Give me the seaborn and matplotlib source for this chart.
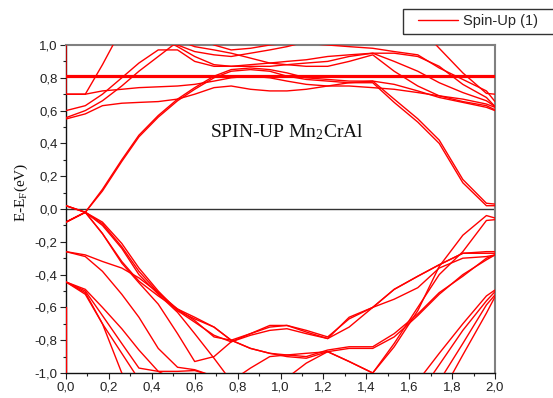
import numpy as np
import pandas as pd
import matplotlib
matplotlib.use("Agg")
import matplotlib.pyplot as plt
from matplotlib.ticker import MultipleLocator, FuncFormatter
from matplotlib.patches import Rectangle
from matplotlib.lines import Line2D
import seaborn as sns

N = np.nan

# k-path sampling (first point repeated so a band can jump at Gamma)
k_path = [0.00, 0.00, 0.09, 0.17, 0.26, 0.34, 0.43, 0.52, 0.60, 0.69, 0.77, 0.86,
          0.95, 1.03, 1.12, 1.22, 1.32, 1.43, 1.53, 1.64, 1.74, 1.85, 1.96, 2.00]

# flat band just above the Fermi level
flat_k = [0.0, 2.0]
flat_e = [0.81, 0.81]

# conduction bands (eV)
up_steep_l = [1.20, 0.70, 0.70, 0.88, 1.10, N, N, N, N, N, N, N, N, N, N, N, N, N, N, N, N, N, N, N]
up_steep_r = [N, N, N, N, N, N, N, N, N, N, N, N, N, N, N, N, N, N, N, 1.12, 0.98, 0.83, 0.705, 0.70]
up_gap1 = [0.02, 0.02, -0.02, 0.12, 0.30, 0.45, 0.57, 0.67, 0.74, 0.81, 0.85, 0.86, 0.85, 0.83, 0.80, 0.79, 0.78, 0.78, 0.67, 0.55, 0.42, 0.18, 0.035, 0.03]
up_gap2 = [-0.08, -0.08, -0.02, 0.11, 0.29, 0.44, 0.56, 0.66, 0.73, 0.80, 0.84, 0.85, 0.84, 0.81, 0.79, 0.78, 0.77, 0.77, 0.65, 0.53, 0.40, 0.16, 0.02, 0.02]
up_a = [0.70, 0.70, 0.70, 0.72, 0.73, 0.74, 0.745, 0.75, 0.76, 0.78, 0.80, 0.81, 0.80, 0.78, 0.76, 0.75, 0.75, 0.74, 0.73, 0.71, 0.69, 0.67, 0.64, 0.62]
up_b = [0.60, 0.60, 0.63, 0.70, 0.80, 0.89, 0.97, 0.97, 0.90, 0.87, 0.87, 0.88, 0.89, 0.90, 0.91, 0.93, 0.94, 0.95, 0.90, 0.84, 0.77, 0.71, 0.66, 0.625]
up_c = [0.557, 0.557, 0.60, 0.66, 0.75, 0.84, 0.93, 1.02, 1.10, N, N, N, N, N, N, N, N, N, N, N, N, N, N, N]
up_d = [0.549, 0.549, 0.58, 0.63, 0.645, 0.65, 0.655, 0.67, 0.70, 0.74, 0.75, 0.73, 0.72, 0.72, 0.73, 0.75, 0.77, 0.78, 0.76, 0.72, 0.68, 0.65, 0.62, 0.60]
up_e = [N, N, N, N, N, N, 1.05, 1.00, 0.96, 0.94, 0.93, 0.95, 0.97, 0.99, 1.02, N, N, N, N, N, N, N, N, N]
up_f = [N, N, N, N, N, N, 1.05, 0.99, 0.93, 0.88, 0.87, 0.87, 0.87, 0.88, 0.89, 0.90, 0.93, 0.95, 0.95, 0.93, 0.87, 0.76, 0.68, 0.625]
up_g = [N, N, N, N, N, N, N, 1.03, 0.99, 0.97, 0.95, 0.92, 0.89, 0.88, 0.87, 0.87, 0.90, 0.94, 0.84, 0.75, 0.69, 0.655, 0.63, 0.605]
up_h = [N, N, N, N, N, N, N, N, 1.05, 1.00, 0.97, 0.98, 1.00, 1.01, 1.01, 1.00, 0.99, 0.98, 0.96, 0.94, 0.86, 0.79, 0.72, 0.655]

# valence bands (eV)
dn_1 = [0.02, 0.02, -0.02, -0.08, -0.21, -0.36, -0.50, -0.62, -0.67, -0.72, -0.80, -0.76, -0.72, -0.71, -0.74, -0.78, -0.67, -0.60, -0.49, -0.41, -0.34, -0.27, -0.27, -0.27]
dn_2 = [-0.08, -0.08, -0.02, -0.09, -0.23, -0.38, -0.51, -0.62, -0.69, -0.77, -0.81, -0.77, -0.74, -0.73, -0.76, -0.79, -0.72, -0.60, -0.55, -0.48, -0.36, -0.30, -0.29, -0.28]
dn_3 = [-0.08, -0.08, -0.02, -0.15, -0.32, -0.44, -0.53, -0.61, -0.68, -0.78, -0.80, -0.85, -0.88, -0.90, -0.91, -0.87, -0.85, -0.85, -0.78, -0.65, -0.52, -0.40, -0.31, -0.28]
dn_4 = [-0.26, -0.26, -0.28, -0.32, -0.36, -0.42, -0.51, -0.61, -0.66, -0.72, -0.80, -0.85, -0.88, -0.89, -0.90, -0.86, -0.84, -0.84, -0.76, -0.64, -0.51, -0.41, -0.30, -0.28]
dn_5 = [-0.26, -0.26, -0.29, -0.38, -0.52, -0.66, -0.85, -0.965, -0.98, -1.02, N, N, N, N, N, N, N, N, N, N, N, N, N, N]
dn_6 = [-0.445, -0.445, -0.49, -0.60, -0.73, -0.86, -0.99, -1.05, N, N, N, N, N, N, N, N, N, N, N, -1.05, -0.88, -0.70, -0.53, -0.494]
dn_7 = [-0.445, -0.445, -0.50, -0.65, -0.82, -0.97, -0.99, -0.99, -0.985, -1.02, N, N, N, N, N, N, N, N, N, -1.14, -0.95, -0.74, -0.56, -0.504]
dn_8 = [-0.445, -0.445, -0.51, -0.70, -1.00, -1.10, N, N, N, N, N, N, N, N, N, N, N, N, N, N, -1.05, -0.82, -0.585, -0.524]
dn_9 = [-0.445, -0.445, -0.52, -0.70, -0.88, -1.04, N, N, N, N, N, N, N, N, N, N, N, N, N, N, -1.15, -0.89, -0.635, -0.535]
dn_10 = [0.02, 0.02, -0.02, -0.15, -0.33, -0.45, -0.58, -0.76, -0.93, -0.90, -0.81, -0.76, -0.71, -0.71, -0.75, -0.79, -0.66, -0.60, -0.49, -0.41, -0.34, -0.27, -0.26, -0.26]
dn_11 = [-0.08, -0.08, -0.02, -0.10, -0.24, -0.40, -0.52, -0.63, -0.76, -0.91, -1.05, -0.97, -0.90, -0.89, -0.88, -0.87, -0.93, -1.00, -0.84, -0.62, -0.35, -0.16, -0.04, -0.055]
dn_12 = [N, N, N, N, N, N, N, N, N, N, N, N, N, -1.03, -0.94, -0.87, -0.93, -1.00, -0.82, -0.60, -0.40, -0.26, -0.07, -0.065]
dn_13 = [-0.60, -1.20, N, N, N, N, N, N, N, N, N, N, N, N, N, N, N, N, N, N, N, N, N, N]

bands = [up_steep_l, up_steep_r, up_gap1, up_gap2, up_a, up_b, up_c, up_d, up_e,
         up_f, up_g, up_h, dn_1, dn_2, dn_3, dn_4, dn_5, dn_6, dn_7, dn_8, dn_9,
         dn_10, dn_11, dn_12, dn_13]

# split each band into continuous pieces (gaps = outside the window)
rows = []
seg = 0
for energies in bands:
    run = []
    for k, e in zip(k_path, energies):
        if np.isnan(e):
            if len(run) > 1:
                rows += [(seg, kk, ee) for kk, ee in run]
                seg += 1
            run = []
        else:
            run.append((k, e))
    if len(run) > 1:
        rows += [(seg, kk, ee) for kk, ee in run]
        seg += 1
df = pd.DataFrame(rows, columns=["seg", "k", "E"])

sns.set_theme(style="white")
plt.rcParams["font.family"] = ["Liberation Sans", "DejaVu Sans"]

fig = plt.figure(figsize=(5.53, 3.98), dpi=100)
ax = fig.add_axes([66 / 553, 1 - 373 / 398, 429 / 553, 328 / 398])

red = "#ff0000"
sns.lineplot(data=df, x="k", y="E", units="seg", estimator=None, sort=False,
             color=red, lw=1.0, legend=False, ax=ax, zorder=3)
sns.lineplot(x=flat_k, y=flat_e, color=red, lw=2.3, legend=False, ax=ax, zorder=3)
ax.axhline(0.0, color="#333333", lw=1.0, zorder=2)

ax.set_xlim(0, 2)
ax.set_ylim(-1, 1)
ax.xaxis.set_major_locator(MultipleLocator(0.2))
ax.xaxis.set_minor_locator(MultipleLocator(0.1))
ax.yaxis.set_major_locator(MultipleLocator(0.2))
ax.yaxis.set_minor_locator(MultipleLocator(0.1))
comma = FuncFormatter(lambda v, p: f"{v:.1f}".replace(".", ",").replace("-0,0", "0,0"))
ax.xaxis.set_major_formatter(comma)
ax.yaxis.set_major_formatter(comma)
ax.tick_params(which="both", direction="out", bottom=True, left=True, top=False,
               right=False, colors="#222222", width=0.8)
ax.tick_params(which="major", length=4, labelsize=9.5, pad=2)
ax.tick_params(which="minor", length=2.5)
ax.set_xlabel("")

for side in ("left", "bottom"):
    ax.spines[side].set_color("#111111")
    ax.spines[side].set_linewidth(1.0)
for side in ("top", "right"):
    ax.spines[side].set_color("#808080")
    ax.spines[side].set_linewidth(1.5)

ax.set_ylabel(r"E-E$\mathregular{_F}$(eV)", family=["Liberation Serif"], fontsize=11,
              color="#111111")
ax.yaxis.set_label_coords(-0.085, 0.552)

ax.text(1.03, 0.44, r"SPIN-UP Mn$\mathregular{_2}$CrAl", family=["Liberation Serif"],
        fontsize=14, ha="center", va="baseline", color="#111111")

# legend box in the top right corner
fig.patches.append(Rectangle((403 / 553, 1 - 34 / 398), 0.3, 25 / 398,
                             transform=fig.transFigure, fill=False,
                             edgecolor="#333333", lw=1.0))
fig.legend(handles=[Line2D([], [], color=red, lw=1.0)], labels=["Spin-Up (1)"],
           loc="center left", bbox_to_anchor=(418 / 553, 1 - 21.5 / 398),
           frameon=False, borderpad=0, borderaxespad=0, handlelength=2.73,
           handletextpad=0.36, fontsize=10.5)

fig.savefig("out.png", dpi=100)
